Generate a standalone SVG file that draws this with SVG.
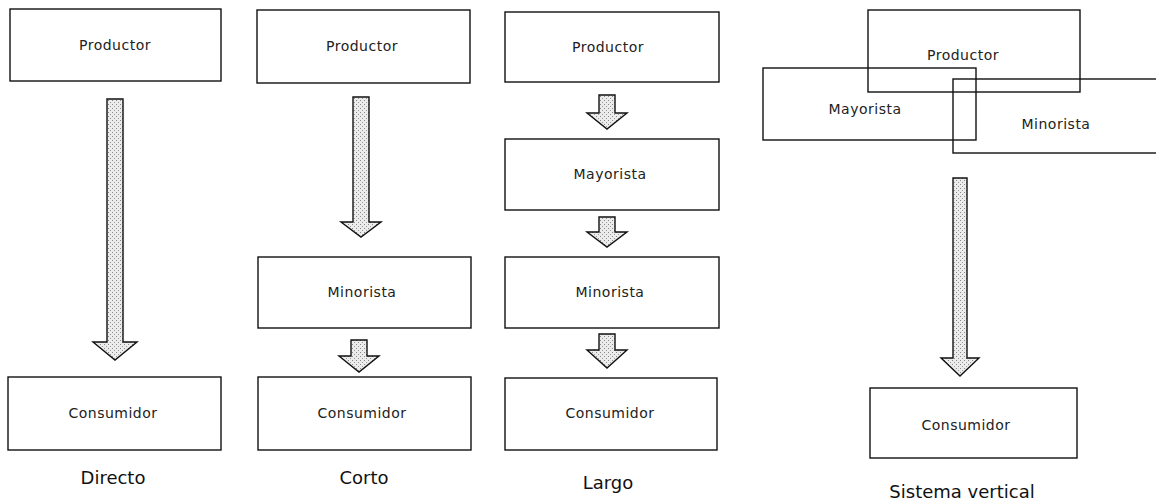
<svg xmlns="http://www.w3.org/2000/svg" width="1156" height="501" viewBox="0 0 1156 501">
<style>
.box{fill:none;stroke:#111;stroke-width:1.4}
.lbl{font-family:"DejaVu Sans",Verdana,sans-serif;font-size:14px;letter-spacing:0.5px;fill:#222;text-anchor:middle}
.cap{font-family:"DejaVu Sans",Verdana,sans-serif;font-size:18px;fill:#111;text-anchor:middle}
.arr{fill:url(#dots);stroke:#111;stroke-width:1.4;stroke-linejoin:miter}
</style>
<defs>
<pattern id="dots" width="4" height="4" patternUnits="userSpaceOnUse">
<rect width="4" height="4" fill="#ececec"/>
<rect x="0" y="0" width="1" height="1" fill="#888"/>
<rect x="2" y="2" width="1" height="1" fill="#999"/>
</pattern>
</defs>
<rect width="1156" height="501" fill="#fff"/>

<g id="connectors">
<path class="arr" d="M107,99 H123 V342 H137 L115,360 L93,342 H107 Z"/>
<path class="arr" d="M353,97 H369 V222 H381 L361,237 L341,222 H353 Z"/>
<path class="arr" d="M351,340 H367 V356 H379 L359,372 L339,356 H351 Z"/>
<path class="arr" d="M599,95 H615 V113 H627 L607,129 L587,113 H599 Z"/>
<path class="arr" d="M599,217 H615 V232 H627 L607,247 L587,232 H599 Z"/>
<path class="arr" d="M599,334 H615 V350 H627 L607,368 L587,350 H599 Z"/>
<path class="arr" d="M953,178 H967 V358 H979 L960,376 L941,358 H953 Z"/>
</g>

<g id="directo-productor"><rect class="box" x="10" y="9" width="211" height="72"/><text class="lbl" x="115" y="50">Productor</text></g>
<g id="directo-consumidor"><rect class="box" x="8" y="377" width="213" height="73"/><text class="lbl" x="113" y="418">Consumidor</text></g>
<text class="cap" x="113" y="484">Directo</text>

<g id="corto-productor"><rect class="box" x="257" y="10" width="213" height="73"/><text class="lbl" x="362" y="51">Productor</text></g>
<g id="corto-minorista"><rect class="box" x="258" y="257" width="213" height="71"/><text class="lbl" x="362" y="297">Minorista</text></g>
<g id="corto-consumidor"><rect class="box" x="258" y="377" width="213" height="73"/><text class="lbl" x="362" y="418">Consumidor</text></g>
<text class="cap" x="364" y="484">Corto</text>

<g id="largo-productor"><rect class="box" x="505" y="12" width="214" height="70"/><text class="lbl" x="608" y="52">Productor</text></g>
<g id="largo-mayorista"><rect class="box" x="505" y="139" width="214" height="71"/><text class="lbl" x="610" y="179">Mayorista</text></g>
<g id="largo-minorista"><rect class="box" x="505" y="257" width="214" height="71"/><text class="lbl" x="610" y="297">Minorista</text></g>
<g id="largo-consumidor"><rect class="box" x="505" y="378" width="212" height="72"/><text class="lbl" x="610" y="418">Consumidor</text></g>
<text class="cap" x="608" y="489">Largo</text>

<g id="vertical-productor"><rect class="box" x="868" y="10" width="212" height="82"/><text class="lbl" x="963" y="60">Productor</text></g>
<g id="vertical-mayorista"><rect class="box" x="763" y="68" width="213" height="72"/><text class="lbl" x="865" y="114">Mayorista</text></g>
<g id="vertical-minorista"><rect class="box" x="953" y="79" width="215" height="74"/><text class="lbl" x="1056" y="129">Minorista</text></g>
<g id="vertical-consumidor"><rect class="box" x="870" y="388" width="207" height="70"/><text class="lbl" x="966" y="430">Consumidor</text></g>
<text class="cap" x="962" y="498">Sistema vertical</text>
</svg>
